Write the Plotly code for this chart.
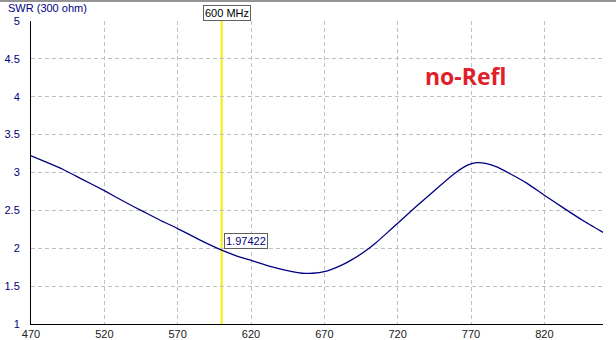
import plotly.graph_objects as go

# --- data -------------------------------------------------------------
freq_mhz = [470, 480, 492, 505, 520, 535, 546, 558, 570, 585, 600, 610, 620,
            635, 648, 655, 662, 670, 680, 688, 697, 705, 712, 720, 732, 745,
            759, 768, 774, 780, 788, 796, 808, 820, 834, 846, 860]
swr = [3.22, 3.14, 3.04, 2.91, 2.76, 2.60, 2.49, 2.37, 2.26, 2.11, 1.97422,
       1.90, 1.84, 1.75, 1.69, 1.67, 1.67, 1.69, 1.76, 1.84, 1.95, 2.07, 2.19,
       2.33, 2.54, 2.76, 2.99, 3.10, 3.13, 3.12, 3.07, 2.99, 2.86, 2.70, 2.52,
       2.37, 2.21]
x_ticks = [470, 520, 570, 620, 670, 720, 770, 820]
y_ticks = [1, 1.5, 2, 2.5, 3, 3.5, 4, 4.5, 5]
y_tick_text = ["1", "1.5", "2", "2.5", "3", "3.5", "4", "4.5", "5"]
marker_freq = 600
marker_value = 1.97422
y_title = "SWR (300 ohm)"
x_unit = "MHz"
note = "no-Refl"

NAVY = "#000080"
GRID = "#c0c0c0"
FONT = "Liberation Sans, Arial, sans-serif"

fig = go.Figure()
fig.add_trace(go.Scatter(
    x=freq_mhz, y=swr, mode="lines",
    line=dict(color=NAVY, width=1.3, shape="spline", smoothing=0.5),
    hoverinfo="skip", showlegend=False,
))

# marker line
fig.add_shape(type="line", xref="x", yref="paper", x0=marker_freq, x1=marker_freq,
              y0=0, y1=1, line=dict(color="#f0f000", width=2), layer="below")
# window top border
fig.add_shape(type="line", xref="paper", yref="paper", x0=-0.06, x1=1.03,
              y0=1.066, y1=1.066, line=dict(color="#707070", width=1.5))

fig.add_annotation(x=marker_freq, y=1.027, xref="x", yref="paper",
                   text=f"{marker_freq} MHz", showarrow=False, xanchor="center",
                   yanchor="middle", xshift=5.5,
                   font=dict(family=FONT, size=11, color="black"),
                   bgcolor="white", bordercolor="#606060", borderwidth=1, borderpad=1)
fig.add_annotation(x=marker_freq, y=marker_value, xref="x", yref="y",
                   text=f"{marker_value:.5f}", showarrow=False, xanchor="left",
                   yanchor="middle", xshift=2.5, yshift=9,
                   font=dict(family=FONT, size=11, color=NAVY),
                   bgcolor="white", bordercolor="#606060", borderwidth=1, borderpad=1)
fig.add_annotation(x=-0.043, y=1.042, xref="paper", yref="paper", text=y_title,
                   showarrow=False, xanchor="left", yanchor="middle",
                   font=dict(family=FONT, size=11, color=NAVY))
fig.add_annotation(x=(614 - 31) / 572, y=-0.026, xref="paper", yref="paper",
                   text=x_unit, showarrow=False, xanchor="left", yanchor="middle",
                   font=dict(family=FONT, size=11, color="#202020"))
fig.add_annotation(x=(465 - 31) / 572, y=(324 - 76) / 303, xref="paper", yref="paper",
                   text=f"<b>{note}</b>", showarrow=False, xanchor="center",
                   yanchor="middle",
                   font=dict(family="Open Sans, sans-serif", size=23, color="#e0202a"))

fig.update_layout(
    width=616, height=340,
    margin=dict(l=31, r=13, t=21, b=16, pad=0, autoexpand=False),
    paper_bgcolor="white", plot_bgcolor="white",
    font=dict(family=FONT, size=11),
    xaxis=dict(range=[470, 860], tickvals=x_ticks, showgrid=True, gridcolor=GRID,
               griddash="4px,3px", gridwidth=1, showline=True, linecolor="black",
               linewidth=1, ticks="", zeroline=False, automargin=False,
               tickfont=dict(family=FONT, size=11, color="#202020")),
    yaxis=dict(range=[1, 5], tickvals=y_ticks, ticktext=y_tick_text, showgrid=True,
               gridcolor=GRID, griddash="4px,3px", gridwidth=1, showline=True,
               linecolor="black", linewidth=1, ticks="", zeroline=False,
               automargin=False, ticklabelstandoff=8,
               tickfont=dict(family=FONT, size=11, color=NAVY)),
)

fig.write_html("out.html")
